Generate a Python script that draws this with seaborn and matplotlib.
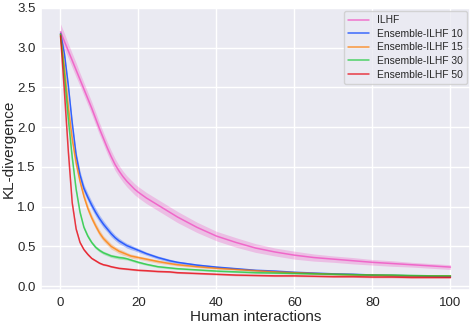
import numpy as np
import pandas as pd
import matplotlib
matplotlib.use("Agg")
import matplotlib.pyplot as plt
import seaborn as sns

# ---- data ----
x = [0, 1, 2, 3, 4, 5, 6, 7, 8, 9, 10, 11, 12, 13, 14, 15, 16, 17, 18, 19, 20,
     22, 25, 28, 30, 35, 40, 45, 50, 55, 60, 65, 70, 75, 80, 85, 90, 95, 100]

ilhf = [3.20, 3.08, 2.96, 2.84, 2.72, 2.60, 2.48, 2.36, 2.24, 2.11, 1.98, 1.86, 1.74, 1.63, 1.53,
        1.45, 1.38, 1.32, 1.27, 1.22, 1.18, 1.11, 1.02, 0.93, 0.87, 0.74, 0.63, 0.55, 0.48, 0.43,
        0.39, 0.36, 0.34, 0.32, 0.30, 0.285, 0.27, 0.255, 0.24]
ens10 = [3.18, 2.92, 2.52, 2.05, 1.65, 1.40, 1.23, 1.12, 1.02, 0.93, 0.85, 0.78, 0.72, 0.66, 0.61,
         0.57, 0.54, 0.51, 0.49, 0.47, 0.45, 0.41, 0.36, 0.32, 0.30, 0.265, 0.24, 0.22, 0.20, 0.19,
         0.175, 0.165, 0.155, 0.15, 0.14, 0.135, 0.13, 0.125, 0.12]
ens15 = [3.17, 2.75, 2.25, 1.85, 1.55, 1.32, 1.13, 0.98, 0.86, 0.76, 0.67, 0.60, 0.55, 0.50, 0.47,
         0.44, 0.42, 0.40, 0.38, 0.37, 0.36, 0.34, 0.31, 0.285, 0.27, 0.245, 0.225, 0.21, 0.195, 0.18,
         0.17, 0.16, 0.15, 0.145, 0.14, 0.135, 0.13, 0.13, 0.13]
ens30 = [3.17, 2.65, 2.10, 1.62, 1.22, 0.93, 0.74, 0.63, 0.55, 0.49, 0.45, 0.42, 0.40, 0.38, 0.37,
         0.36, 0.355, 0.345, 0.33, 0.315, 0.30, 0.275, 0.245, 0.23, 0.22, 0.205, 0.19, 0.18, 0.17, 0.165,
         0.16, 0.155, 0.15, 0.145, 0.14, 0.14, 0.135, 0.13, 0.13]
ens50 = [3.15, 2.45, 1.70, 1.05, 0.72, 0.55, 0.46, 0.40, 0.35, 0.32, 0.29, 0.27, 0.26, 0.245, 0.235,
         0.225, 0.22, 0.215, 0.21, 0.205, 0.20, 0.195, 0.185, 0.18, 0.17, 0.16, 0.15, 0.14, 0.135, 0.13,
         0.13, 0.125, 0.12, 0.12, 0.115, 0.115, 0.11, 0.11, 0.11]

# half-width of the shaded bands
ilhf_hw = [0.10, 0.10, 0.09, 0.09, 0.09, 0.08, 0.08, 0.08, 0.08, 0.08, 0.075, 0.075, 0.075, 0.075, 0.075,
           0.07, 0.07, 0.07, 0.07, 0.07, 0.07, 0.07, 0.07, 0.07, 0.07, 0.065, 0.06, 0.06, 0.055, 0.05,
           0.05, 0.045, 0.04, 0.04, 0.035, 0.035, 0.03, 0.03, 0.03]
ens10_hw = [0.05, 0.05, 0.05, 0.05, 0.05, 0.05, 0.05, 0.05, 0.05, 0.05, 0.045, 0.045, 0.04, 0.04, 0.035,
            0.035, 0.03, 0.03, 0.03, 0.025, 0.025, 0.02, 0.02, 0.02, 0.015, 0.015, 0.012, 0.012, 0.01, 0.01,
            0.01, 0.01, 0.01, 0.01, 0.01, 0.01, 0.01, 0.01, 0.01]
ens15_hw = [0.05, 0.05, 0.05, 0.05, 0.05, 0.045, 0.045, 0.045, 0.04, 0.04, 0.04, 0.035, 0.035, 0.035, 0.03,
            0.03, 0.03, 0.025, 0.025, 0.025, 0.02, 0.02, 0.02, 0.015, 0.015, 0.012, 0.012, 0.01, 0.01, 0.01,
            0.01, 0.01, 0.01, 0.01, 0.01, 0.01, 0.01, 0.01, 0.01]
ens30_hw = [0.04, 0.04, 0.04, 0.035, 0.03, 0.03, 0.025, 0.025, 0.02, 0.02, 0.02, 0.02, 0.02, 0.02, 0.02,
            0.02, 0.02, 0.015, 0.015, 0.015, 0.015, 0.012, 0.012, 0.012, 0.01, 0.01, 0.01, 0.01, 0.01, 0.01,
            0.01, 0.01, 0.01, 0.01, 0.01, 0.01, 0.01, 0.01, 0.01]
ens50_hw = [0.03, 0.03, 0.025, 0.02, 0.02, 0.015, 0.015, 0.015, 0.012, 0.012, 0.012, 0.01, 0.01, 0.01, 0.01,
            0.01, 0.01, 0.01, 0.01, 0.01, 0.01, 0.01, 0.01, 0.01, 0.01, 0.01, 0.01, 0.01, 0.01, 0.01,
            0.01, 0.01, 0.01, 0.01, 0.01, 0.01, 0.01, 0.01, 0.01]

labels = ["ILHF", "Ensemble-ILHF 10", "Ensemble-ILHF 15", "Ensemble-ILHF 30", "Ensemble-ILHF 50"]
series = [ilhf, ens10, ens15, ens30, ens50]
widths = [ilhf_hw, ens10_hw, ens15_hw, ens30_hw, ens50_hw]

# ---- plotting ----
sns.set_theme(style="darkgrid")
plt.rcParams["font.family"] = ["Liberation Sans", "DejaVu Sans"]

bright = sns.color_palette("bright")
colors = [bright[6], bright[0], bright[1], bright[2], bright[3]]

df = pd.concat([pd.DataFrame({"Human interactions": x, "KL-divergence": s, "method": l})
                for s, l in zip(series, labels)], ignore_index=True)

fig = plt.figure(figsize=(4.74, 3.26), dpi=100)
ax = fig.add_axes([0.0865, 0.110, 0.905, 0.8655])

sns.lineplot(data=df, x="Human interactions", y="KL-divergence", hue="method",
             hue_order=labels, palette=colors, linewidth=1.1, alpha=0.75,
             errorbar=None, ax=ax)
for s, w, c in zip(series, widths, colors):
    s = np.asarray(s); w = np.asarray(w)
    ax.fill_between(x, s - w, s + w, color=c, alpha=0.28, linewidth=0)

ax.set_xlim(-5, 105)
ax.set_ylim(-0.05, 3.49)
ax.set_xticks([0, 20, 40, 60, 80, 100])
ax.set_yticks([0.0, 0.5, 1.0, 1.5, 2.0, 2.5, 3.0, 3.5])
ax.set_yticklabels(["0.0", "0.5", "1.0", "1.5", "2.0", "2.5", "3.0", "3.5"])
ax.tick_params(axis="x", labelsize=9.5, length=0, pad=5)
ax.tick_params(axis="y", labelsize=9.5, length=0, pad=4)
ax.set_xlabel("Human interactions", fontsize=11, labelpad=1)
ax.set_ylabel("KL-divergence", fontsize=11, labelpad=1)

leg = ax.legend(loc="upper right", fontsize=7.4, frameon=True, borderaxespad=0.3,
                handlelength=2.0, labelspacing=0.35)
leg.set_title(None)

fig.savefig("out.png", dpi=100)
